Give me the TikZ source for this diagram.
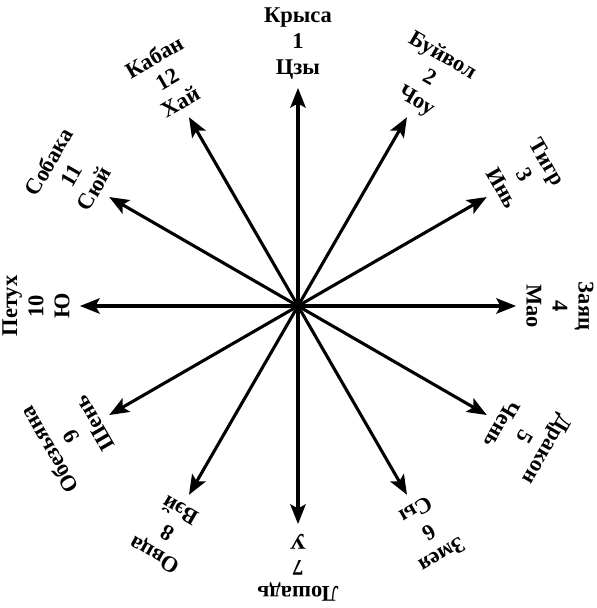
\documentclass[tikz,border=0pt]{standalone}
\usepackage{fontspec}
\setmainfont{Liberation Serif}
\usetikzlibrary{arrows.meta}

\begin{document}
\begin{tikzpicture}[
  spoke/.style={line width=2.2pt, -{Stealth[length=14pt, width=11pt, inset=3pt]}},
  sign/.style={align=center, inner sep=0pt, font=\bfseries\fontsize{16}{18.5}\selectfont}]
  \useasboundingbox (-7.45,-7.55) rectangle (7.475,7.65);
  \def\rtip{5.45}
  \def\rlabel{6.55}
  \coordinate (c) at (0,0);
  \foreach \i/\animal/\branch [evaluate=\i as \ang using 90-(\i-1)*30] in
    {1/Крыса/Цзы, 2/Буйвол/Чоу, 3/Тигр/Инь, 4/Заяц/Мао,
     5/Дракон/Чень, 6/Змея/Сы, 7/Лошадь/У, 8/Овца/Вэй,
     9/Обезьяна/Шень, 10/Петух/Ю, 11/Собака/Сюй, 12/Кабан/Хай} {
    \coordinate (t\i) at ({\ang}:\rtip);
    \draw[spoke] (c) -- (t\i);
    \node[sign, rotate=\ang-90] (l\i) at ({\ang}:\rlabel) {\animal\\\i\\\branch};
  }
  \fill (c) circle (0.12);
\end{tikzpicture}
\end{document}
